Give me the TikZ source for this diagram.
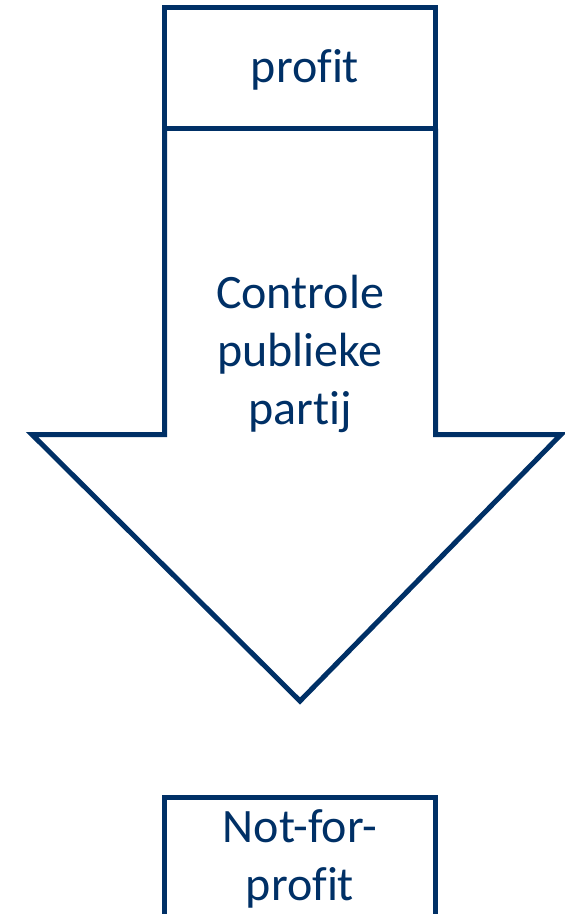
\documentclass[tikz,border=0pt]{standalone}
\usepackage{fontspec}
\setmainfont[Ligatures=NoCommon]{Carlito}
\definecolor{navy}{RGB}{0,48,102}
\tikzset{
  outline/.style={draw=navy, line width=5pt, line join=miter},
  boxnode/.style={outline, minimum width=271pt, minimum height=121pt, inner sep=0pt, outer sep=0pt, anchor=north west},
  label/.style={text=navy, font=\fontsize{48pt}{58pt}\selectfont, align=center, inner sep=0pt}
}
\begin{document}
\begin{tikzpicture}[x=1pt, y=-1pt]
  \useasboundingbox (0,0) rectangle (565,914);
  \clip (0,0) rectangle (565,914);
  % arrow
  \draw[outline] (164.5,128.5) coordinate (shaftL) -- (164.5,434.5) -- (32,434.5) -- (300,701) coordinate (tip)
        -- (561,434.5) -- (435.5,434.5) -- (435.5,128.5) coordinate (shaftR);
  % top box
  \node[boxnode] (top) at (164.5,7.5) {};
  \node[label] (toptext) at (305,70) {profit};
  % arrow text
  \node[label] (arrowtext) at (300,354) {Controle\\publieke\\partij};
  % bottom box
  \node[boxnode, minimum height=160pt] (bottom) at (164.5,797.5) {};
  \node[label] (bottomtext) at (300,859) {Not-for-\\profit};
\end{tikzpicture}
\end{document}
